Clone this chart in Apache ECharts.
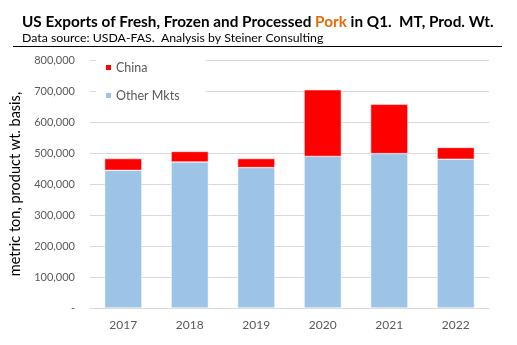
<!DOCTYPE html>
<html><head><meta charset="utf-8">
<script src="https://cdn.jsdelivr.net/npm/echarts@6/dist/echarts.min.js"></script>
<style>html,body{margin:0;padding:0;background:#fff}#c{width:517px;height:345px}</style>
</head><body><div id="c"></div>
<script>
const categories = ['2017','2018','2019','2020','2021','2022'];
const otherMkts = [444000, 471000, 453000, 489000, 498000, 480000];
const china = [38000, 34000, 29000, 215000, 159000, 38000];
const yTicks = [0,100000,200000,300000,400000,500000,600000,700000,800000];

const font = 'Lato, "Open Sans", sans-serif';
const chart = echarts.init(document.getElementById('c'));
chart.setOption({
  animation: false,
  backgroundColor: '#fff',
  title: [{
    text: 'US Exports of Fresh, Frozen and Processed {p|Pork} in Q1.  MT, Prod. Wt.',
    left: 17, top: 10,
    textStyle: { fontFamily: font, fontSize: 15.3, fontWeight: 'bold', color: '#000',
      rich: { p: { fontFamily: font, fontSize: 15.3, fontWeight: 'bold', color: '#E36C09' } } }
  }, {
    text: 'Data source: USDA-FAS.  Analysis by Steiner Consulting',
    left: 17, top: 27,
    textStyle: { fontFamily: font, fontSize: 12.3, fontWeight: 'normal', color: '#000', lineHeight: 13 }
  }],
  graphic: [{ type: 'line', shape: { x1: 13, y1: 46.5, x2: 502, y2: 46.5 }, style: { stroke: '#000', lineWidth: 1 } }],
  legend: {
    orient: 'vertical', left: 96, top: 57, itemGap: 15,
    itemWidth: 7, itemHeight: 7, icon: 'rect',
    backgroundColor: '#fff', padding: [4, 26, 6, 8],
    data: ['China', 'Other Mkts'],
    textStyle: { fontFamily: font, fontSize: 12.5, color: '#595959', padding: [0,0,0,-1] }
  },
  grid: { left: 90, right: 28, top: 60, bottom: 37 },
  xAxis: {
    type: 'category', data: categories,
    axisLine: { lineStyle: { color: '#D9D9D9' } },
    axisTick: { show: false },
    axisLabel: { fontFamily: font, fontSize: 12, color: '#595959', margin: 11 }
  },
  yAxis: {
    type: 'value', min: 0, max: 800000, interval: 100000,
    name: 'metric ton, product wt. basis,', nameLocation: 'middle', nameGap: 60,
    nameTextStyle: { fontFamily: font, fontSize: 14.5, color: '#000' },
    axisLine: { show: false }, axisTick: { show: false },
    splitLine: { lineStyle: { color: '#D9D9D9' } },
    axisLabel: { fontFamily: font, fontSize: 11, color: '#595959', margin: 15,
      formatter: v => v === 0 ? '-' : v.toLocaleString('en-US') }
  },
  series: [{
    name: 'Other Mkts', type: 'bar', stack: 's', data: otherMkts, barWidth: '56%',
    itemStyle: { color: '#9DC3E6', borderColor: '#fff', borderWidth: 0.5 }
  }, {
    name: 'China', type: 'bar', stack: 's', data: china, barWidth: '56%',
    itemStyle: { color: '#FF0000', borderColor: '#fff', borderWidth: 0.5 }
  }]
});
</script></body></html>
